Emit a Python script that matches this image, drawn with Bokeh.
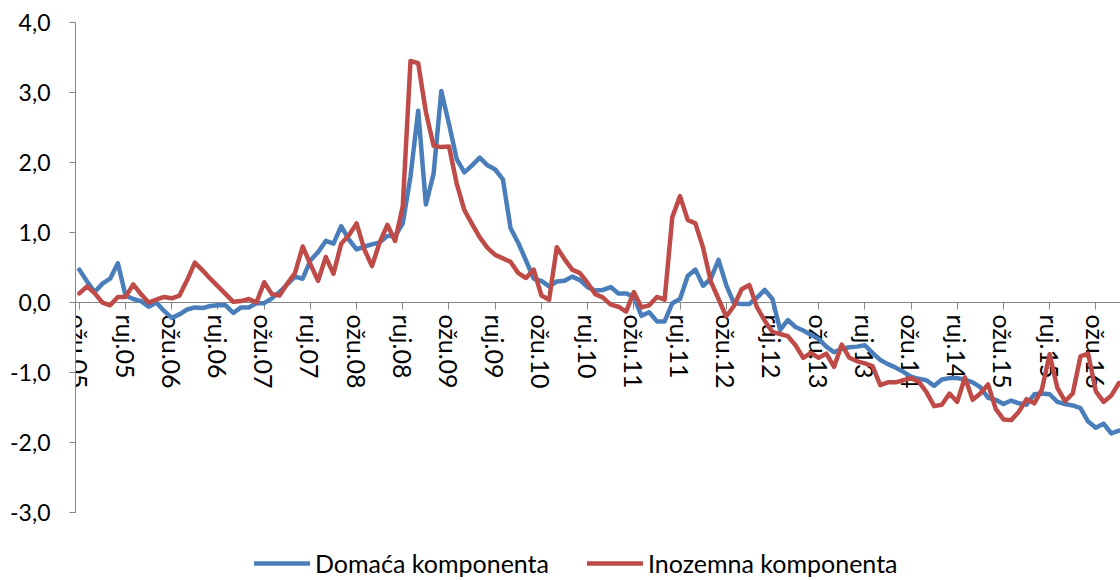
from bokeh.plotting import figure
from bokeh.models import FixedTicker, Range1d, Legend, LegendItem
from bokeh.embed import file_html
from bokeh.resources import INLINE

# monthly index, 0 = ožu.05 (March 2005) ... 135 = lip.16 (June 2016)
months = list(range(136))

x_labels = ["ožu.05", "ruj.05", "ožu.06", "ruj.06", "ožu.07", "ruj.07", "ožu.08", "ruj.08",
            "ožu.09", "ruj.09", "ožu.10", "ruj.10", "ožu.11", "ruj.11", "ožu.12", "ruj.12",
            "ožu.13", "ruj.13", "ožu.14", "ruj.14", "ožu.15", "ruj.15", "ožu.16"]
label_months = [0, 6, 12, 18, 24, 30, 36, 42, 48, 54, 60, 66, 72, 78, 84, 90,
                96, 102, 108, 114, 120, 126, 132]

domestic = [0.47, 0.30, 0.15, 0.27, 0.34, 0.56, 0.10, 0.05, 0.02, -0.06,
            0.00, -0.12, -0.22, -0.17, -0.10, -0.07, -0.08, -0.05, -0.04, -0.04,
            -0.15, -0.07, -0.07, -0.01, -0.01, 0.06, 0.15, 0.26, 0.37, 0.34,
            0.60, 0.72, 0.88, 0.84, 1.09, 0.90, 0.76, 0.80, 0.83, 0.86,
            0.95, 0.95, 1.13, 1.80, 2.74, 1.40, 1.84, 3.02, 2.55, 2.05,
            1.86, 1.96, 2.07, 1.96, 1.90, 1.76, 1.06, 0.85, 0.60, 0.34,
            0.31, 0.23, 0.30, 0.31, 0.37, 0.32, 0.22, 0.17, 0.18, 0.22,
            0.13, 0.13, 0.08, -0.19, -0.14, -0.27, -0.27, -0.01, 0.05, 0.38,
            0.47, 0.24, 0.34, 0.61, 0.25, -0.01, -0.02, -0.02, 0.07, 0.18,
            0.05, -0.39, -0.25, -0.35, -0.40, -0.46, -0.52, -0.63, -0.71, -0.66,
            -0.64, -0.63, -0.61, -0.72, -0.82, -0.88, -0.93, -0.99, -1.06, -1.09,
            -1.11, -1.19, -1.10, -1.08, -1.08, -1.10, -1.14, -1.21, -1.36, -1.39,
            -1.45, -1.40, -1.44, -1.46, -1.31, -1.30, -1.31, -1.42, -1.45, -1.47,
            -1.51, -1.70, -1.79, -1.73, -1.87, -1.83]

foreign = [0.13, 0.23, 0.13, 0.00, -0.04, 0.08, 0.08, 0.26, 0.12, 0.00,
           0.04, 0.08, 0.06, 0.10, 0.32, 0.57, 0.46, 0.34, 0.23, 0.12,
           0.01, 0.02, 0.05, 0.00, 0.29, 0.12, 0.10, 0.27, 0.42, 0.80,
           0.55, 0.31, 0.65, 0.41, 0.84, 0.96, 1.13, 0.76, 0.52, 0.86,
           1.11, 0.88, 1.38, 3.45, 3.42, 2.72, 2.24, 2.22, 2.23, 1.70,
           1.32, 1.12, 0.93, 0.78, 0.68, 0.63, 0.58, 0.42, 0.35, 0.47,
           0.10, 0.04, 0.79, 0.62, 0.47, 0.42, 0.28, 0.12, 0.07, -0.03,
           -0.06, -0.13, 0.15, -0.07, -0.04, 0.08, 0.04, 1.22, 1.52, 1.18,
           1.13, 0.78, 0.30, 0.05, -0.20, -0.05, 0.19, 0.25, -0.07, -0.26,
           -0.42, -0.45, -0.48, -0.61, -0.79, -0.72, -0.79, -0.73, -0.92, -0.60,
           -0.79, -0.84, -0.87, -0.91, -1.18, -1.14, -1.14, -1.11, -1.08, -1.13,
           -1.28, -1.48, -1.46, -1.30, -1.42, -1.07, -1.39, -1.30, -1.17, -1.52,
           -1.67, -1.68, -1.56, -1.38, -1.44, -1.24, -0.74, -1.22, -1.41, -1.30,
           -0.77, -0.73, -1.27, -1.42, -1.33, -1.15]

y_ticks = [-3, -2, -1, 0, 1, 2, 3, 4]
y_labels = ["-3,0", "-2,0", "-1,0", "0,0", "1,0", "2,0", "3,0", "4,0"]

FONT = "Lato"
AXIS_GRAY = "#868686"
BLUE = "#4A7EBB"
RED = "#BE4B48"

p = figure(width=1120, height=580, output_backend="svg", toolbar_location=None,
           x_range=Range1d(-0.5, 135.2), y_range=Range1d(-3.971, 4.0),
           min_border_left=75, min_border_right=0, min_border_top=22, min_border_bottom=0,
           outline_line_color=None)
p.grid.visible = False

r_dom = p.line(months, domestic, line_color=BLUE, line_width=4.5,
               line_join="round", line_cap="round")
r_for = p.line(months, foreign, line_color=RED, line_width=4.5,
               line_join="round", line_cap="round")

# x axis crossing at 0, labels centred on their months
xa = p.xaxis[0]
xa.fixed_location = 0
xa.ticker = FixedTicker(ticks=label_months)
xa.major_label_overrides = {m: s for m, s in zip(label_months, x_labels)}
xa.major_label_orientation = "vertical"
xa.axis_line_color = AXIS_GRAY
xa.major_tick_line_color = AXIS_GRAY
xa.major_tick_out = 7
xa.major_tick_in = 0
xa.minor_tick_line_color = None
xa.major_label_standoff = 5
xa.major_label_text_font = FONT
xa.major_label_text_font_size = "25px"
xa.major_label_text_color = "#000000"
xa.level = "underlay"

ya = p.yaxis[0]
ya.ticker = FixedTicker(ticks=y_ticks)
ya.major_label_overrides = {t: s for t, s in zip(y_ticks, y_labels)}
ya.bounds = (-3, 4)
ya.axis_line_color = AXIS_GRAY
ya.major_tick_line_color = AXIS_GRAY
ya.major_tick_out = 6
ya.major_tick_in = 0
ya.minor_tick_line_color = None
ya.major_label_standoff = 19
ya.major_label_text_font = FONT
ya.major_label_text_font_size = "23px"
ya.major_label_text_color = "#000000"

legend = Legend(items=[LegendItem(label="Domaća komponenta", renderers=[r_dom]),
                       LegendItem(label="Inozemna komponenta", renderers=[r_for])],
                location=(179, 2), orientation="horizontal",
                glyph_width=56, glyph_height=24, label_standoff=5, spacing=38,
                padding=0, margin=0, border_line_color=None, background_fill_alpha=0,
                label_text_font=FONT, label_text_font_size="25px",
                label_text_color="#000000", label_height=24)
p.add_layout(legend)

open("out.html", "w").write(file_html(p, INLINE))
